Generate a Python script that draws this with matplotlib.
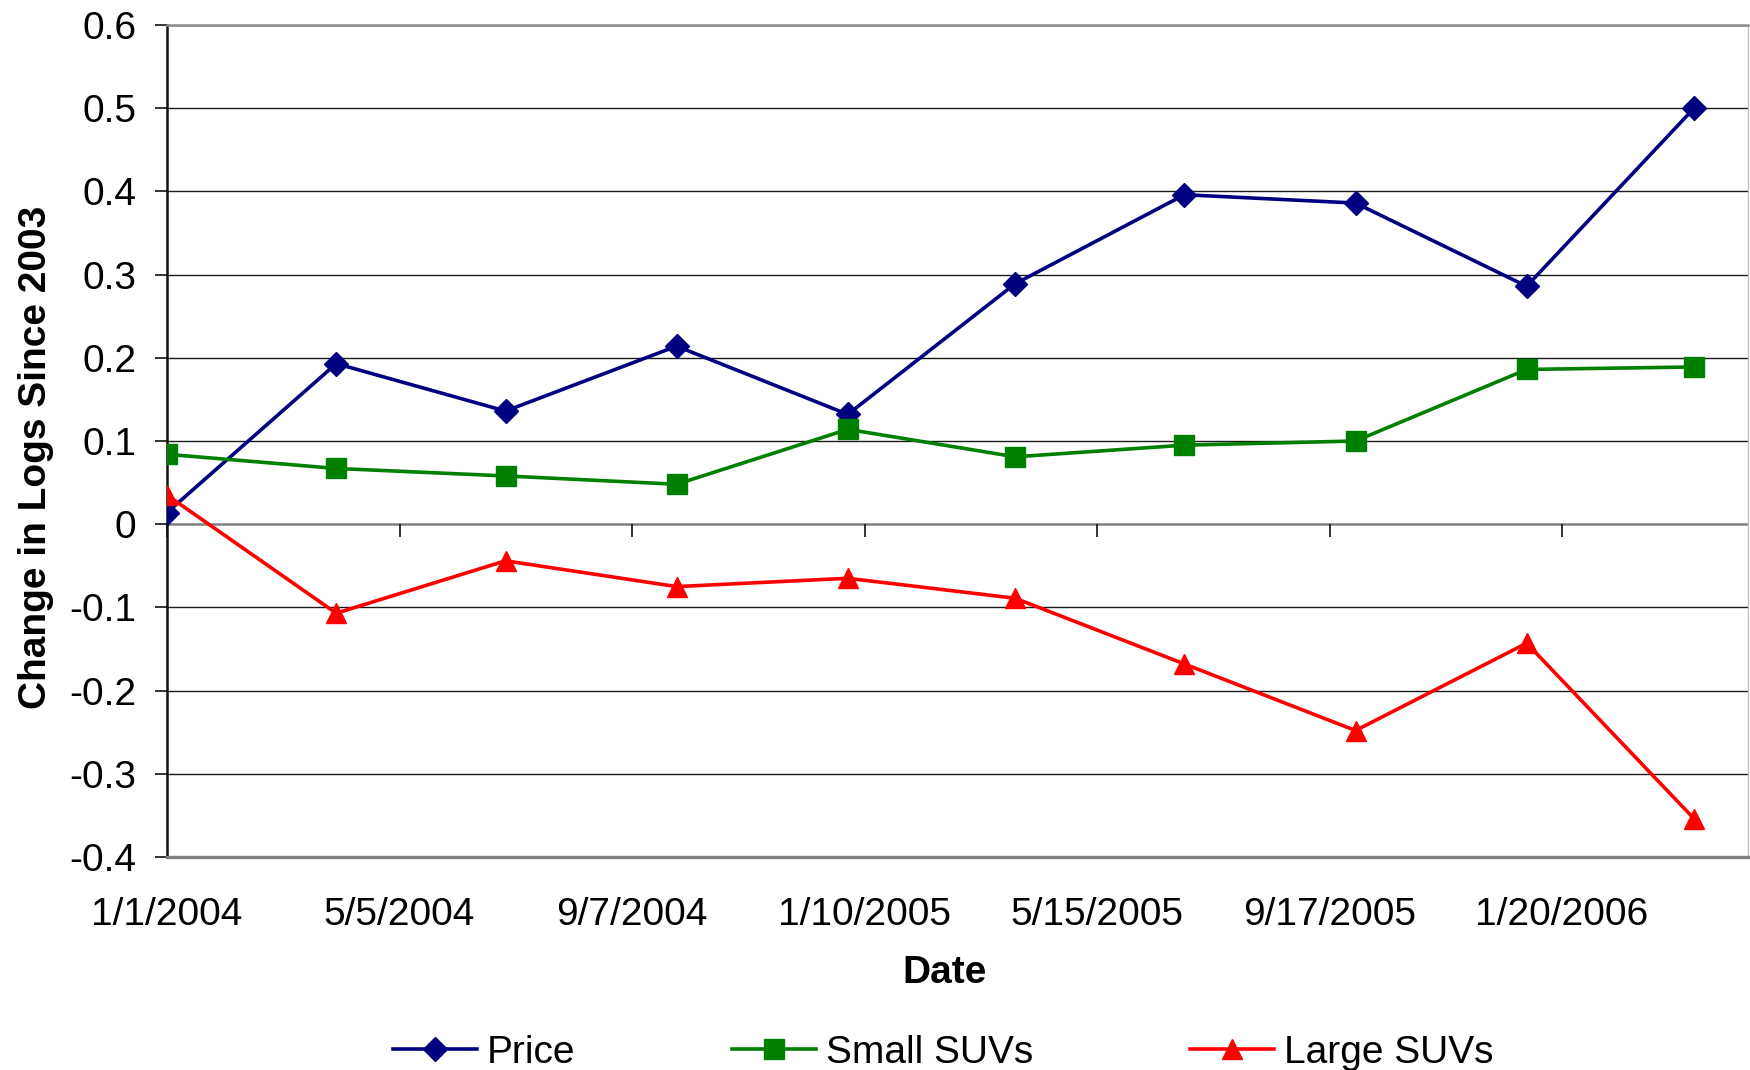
import datetime as dt
import matplotlib
matplotlib.use("Agg")
import matplotlib.pyplot as plt
import matplotlib.markers as mmarkers

# ---- data -------------------------------------------------------------
dates = ["1/1/2004", "4/1/2004", "7/1/2004", "10/1/2004", "1/1/2005",
         "4/1/2005", "7/1/2005", "10/1/2005", "1/1/2006", "4/1/2006"]
price = [0.014, 0.193, 0.136, 0.214, 0.132, 0.289, 0.396, 0.386, 0.286, 0.500]
small_suvs = [0.084, 0.067, 0.058, 0.048, 0.114, 0.081, 0.095, 0.100, 0.186, 0.189]
large_suvs = [0.035, -0.107, -0.044, -0.075, -0.065, -0.089, -0.168, -0.248, -0.143, -0.354]

x_tick_labels = ["1/1/2004", "5/5/2004", "9/7/2004", "1/10/2005",
                 "5/15/2005", "9/17/2005", "1/20/2006"]
y_ticks = [0.6, 0.5, 0.4, 0.3, 0.2, 0.1, 0.0, -0.1, -0.2, -0.3, -0.4]
y_tick_labels = ["0.6", "0.5", "0.4", "0.3", "0.2", "0.1", "0",
                 "-0.1", "-0.2", "-0.3", "-0.4"]
x_start, x_end = "1/1/2004", "4/30/2006"


def parse(s):
    return dt.datetime.strptime(s, "%m/%d/%Y")


x = [parse(d) for d in dates]
x_ticks = [parse(d) for d in x_tick_labels]

# ---- styling ----------------------------------------------------------
plt.rcParams["font.family"] = ["Liberation Sans", "DejaVu Sans"]
FS = 28

fig = plt.figure(figsize=(17.5, 10.7), dpi=100, facecolor="white")
ax = fig.add_axes([167 / 1750, 1 - 857 / 1070, 1581 / 1750, 832 / 1070])

ax.set_xlim(parse(x_start), parse(x_end))
ax.set_ylim(-0.4, 0.6)

# horizontal gridlines
for yv in y_ticks:
    if yv != 0.0:
        ax.axhline(yv, color="#1a1a1a", lw=1.0, zorder=1)
# category axis crossing at zero, with downward tick marks
ax.axhline(0, color="#7f7f7f", lw=1.8, zorder=1.5)
ax.plot(x_ticks, [0.0] * len(x_ticks), linestyle="none",
        marker=mmarkers.TICKDOWN, markersize=9, markeredgewidth=1.2,
        color="#111111", clip_on=False, zorder=1.6)

# series
ax.plot(x, price, color="#000080", lw=2.6, marker="D", markersize=12,
        label="Price", zorder=3)
ax.plot(x, small_suvs, color="#008000", lw=2.6, marker="s", markersize=14,
        label="Small SUVs", zorder=3)
ax.plot(x, large_suvs, color="#FF0000", lw=2.6, marker="^", markersize=15,
        label="Large SUVs", zorder=3)

# frame
ax.spines["left"].set_color("#111111")
ax.spines["left"].set_linewidth(1.8)
ax.spines["top"].set_color("#8c8c8c")
ax.spines["top"].set_linewidth(1.8)
ax.spines["right"].set_color("#c0c0c0")
ax.spines["right"].set_linewidth(1.0)
ax.spines["bottom"].set_color("#808080")
ax.spines["bottom"].set_linewidth(2.4)

# ticks
ax.set_yticks(y_ticks)
ax.set_yticklabels(y_tick_labels, fontsize=FS)
ax.tick_params(axis="y", direction="out", length=9, width=1.2,
               color="#111111", pad=13)
ax.set_xticks(x_ticks)
ax.set_xticklabels(x_tick_labels, fontsize=FS)
ax.tick_params(axis="x", length=0, pad=29)

# axis titles
ax.set_ylabel("Change in Logs Since 2003", fontsize=FS, fontweight="bold",
              va="center")
ax.yaxis.set_label_coords(-0.083, 0.48)
ax.set_xlabel("Date", fontsize=FS, fontweight="bold", va="center")
ax.xaxis.set_label_coords(0.492, -0.139)

# legend below the chart
fig.legend(loc="center", bbox_to_anchor=(0.539, 0.016), ncol=3,
           frameon=False, fontsize=FS, handlelength=2.16,
           handletextpad=0.25, columnspacing=4.04, borderpad=0.2)

fig.savefig("out.png", dpi=100, facecolor="white")
